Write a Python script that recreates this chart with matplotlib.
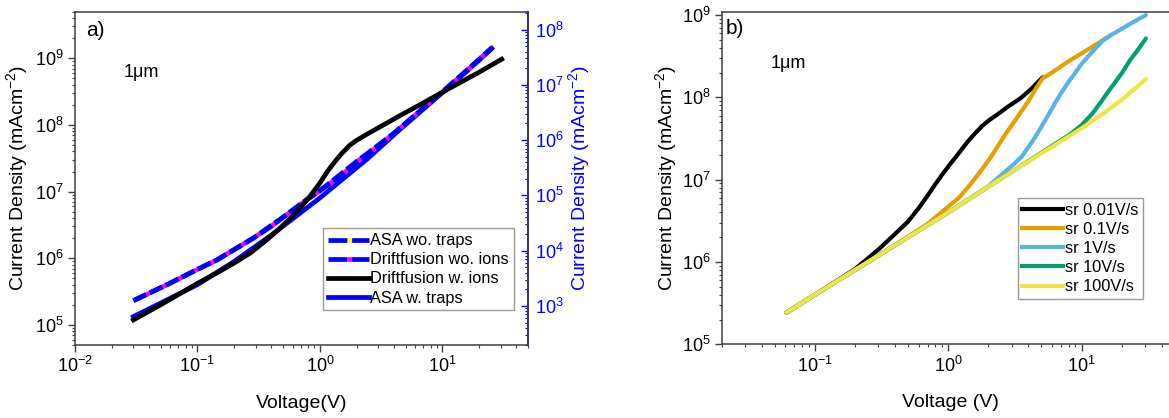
import matplotlib
matplotlib.use("Agg")
import matplotlib.pyplot as plt
from matplotlib.lines import Line2D
from matplotlib.ticker import LogLocator, NullFormatter, LogFormatterMathtext

# ---------------- data (panel a) ----------------
# Driftfusion wo. ions (left axis units)
v_df_wo = [0.03, 0.058, 0.1, 0.144, 0.2, 0.286, 0.4, 0.535, 0.78, 1.0, 1.5, 2.0, 3.0, 4.0, 6.0, 10.2, 15, 20, 25.3]
j_df_wo = [2.31e5, 4.1e5, 6.8e5, 9.4e5, 1.35e6, 2.0e6, 3.0e6, 4.5e6, 7.5e6, 1.03e7, 1.75e7, 2.8e7,
           4.8e7, 7.4e7, 1.4e8, 3.2e8, 5.9e8, 9.6e8, 1.41e9]
# Driftfusion w. ions (left axis units)
v_df_w = [0.03, 0.05, 0.1, 0.15, 0.2, 0.27, 0.35, 0.45, 0.55, 0.65, 0.75, 0.85, 1.0, 1.15, 1.3, 1.5,
          1.76, 2.0, 2.4, 3.3, 4.5, 6.2, 10.2, 20, 30.5]
j_df_w = [1.19e5, 2.0e5, 4.2e5, 6.3e5, 8.5e5, 1.2e6, 1.75e6, 2.6e6, 3.7e6, 5.1e6, 6.8e6, 9.0e6, 1.35e7,
          2.0e7, 2.7e7, 3.7e7, 5.0e7, 5.9e7, 7.2e7, 1.0e8, 1.38e8, 1.9e8, 3.16e8, 6.2e8, 9.7e8]
# ASA wo. traps (right axis units)
v_asa_wo = [0.03, 0.058, 0.1, 0.144, 0.286, 0.535, 0.78, 1.0, 2.0, 4.0, 10.2, 20, 25.3]
j_asa_wo = [1.25e3, 2.5e3, 4.6e3, 6.8e3, 1.69e4, 4.5e4, 8.4e4, 1.22e5, 4.1e5, 1.32e6, 7.8e6, 2.9e7, 4.7e7]
# ASA w. traps (right axis units)
v_asa_w = [0.03, 0.1, 0.2, 0.4, 0.687, 1.0, 2.41, 4.5, 10.2, 20, 25.3]
j_asa_w = [640, 2.42e3, 6.4e3, 1.9e4, 4.74e4, 9.0e4, 4.46e5, 1.55e6, 7.5e6, 2.8e7, 4.55e7]

# ---------------- data (panel b) ----------------
sr_labels = ["sr 0.01V/s", "sr 0.1V/s", "sr 1V/s", "sr 10V/s", "sr 100V/s"]
sr_colors = ["#000000", "#E69F00", "#56B4E9", "#009E73", "#F0E442"]
v_sr001 = [0.061, 0.1, 0.2, 0.3, 0.4, 0.5, 0.6, 0.7, 0.8, 0.9, 1.0, 1.2, 1.4, 1.6, 1.8, 2.0, 2.4, 2.8,
           3.5, 4.2, 5.1]
j_sr001 = [2.43e5, 4.0e5, 8.2e5, 1.42e6, 2.2e6, 3.1e6, 4.5e6, 6.4e6, 8.8e6, 1.15e7, 1.44e7, 2.1e7,
           2.9e7, 3.7e7, 4.5e7, 5.2e7, 6.4e7, 7.7e7, 9.8e7, 1.27e8, 1.75e8]
v_sr01 = [0.061, 0.1, 0.3, 0.7, 1.0, 1.2, 1.4, 1.6, 1.8, 2.0, 2.3, 2.6, 3.0, 3.5, 4.0, 4.5, 5.1, 6.0,
          8, 12, 16.6]
j_sr01 = [2.43e5, 4.0e5, 1.2e6, 2.9e6, 4.7e6, 6.0e6, 8.0e6, 1.05e7, 1.35e7, 1.7e7, 2.4e7, 3.3e7,
          4.6e7, 6.6e7, 9.0e7, 1.25e8, 1.7e8, 2.0e8, 2.75e8, 4.1e8, 5.7e8]
v_sr1 = [0.061, 0.1, 0.3, 1, 2, 3.18, 3.6, 4.0, 4.5, 5.0, 5.6, 6.4, 7.2, 8.0, 9.0, 10, 11.5, 13,
         14.5, 16.6, 20, 25, 30.4]
j_sr1 = [2.43e5, 4.0e5, 1.2e6, 4.0e6, 8.3e6, 1.6e7, 1.95e7, 2.5e7, 3.3e7, 4.4e7, 6.0e7, 8.8e7,
         1.2e8, 1.55e8, 2.0e8, 2.55e8, 3.3e8, 4.1e8, 4.9e8, 5.7e8, 6.8e8, 8.4e8, 1.0e9]
v_sr10 = [0.061, 0.1, 0.3, 1, 3, 8.3, 10, 12, 14, 16, 18, 20, 23, 26.5, 30.4]
j_sr10 = [2.43e5, 4.0e5, 1.2e6, 4.0e6, 1.25e7, 3.6e7, 4.6e7, 6.3e7, 8.8e7, 1.2e8, 1.55e8, 1.95e8,
          2.8e8, 3.8e8, 5.2e8]
v_sr100 = [0.061, 0.1, 0.3, 1, 3, 10, 15, 20, 25, 30.4]
j_sr100 = [2.43e5, 4.0e5, 1.2e6, 4.0e6, 1.25e7, 4.2e7, 6.6e7, 9.3e7, 1.27e8, 1.67e8]

# ---------------- style ----------------
plt.rcParams.update({
    "font.family": ["Liberation Sans", "DejaVu Sans"],
    "mathtext.fontset": "custom",
    "mathtext.rm": "Liberation Sans",
    "mathtext.it": "Liberation Sans:italic",
    "mathtext.bf": "Liberation Sans:bold",
    "axes.linewidth": 1.1,
})
SPINE = "#404040"
W, H = 1169, 418
fig = plt.figure(figsize=(W / 100, H / 100), dpi=100)

ax = fig.add_axes([75 / W, 73 / H, 453 / W, 333.3 / H])
ax2 = ax.twinx()
bx = fig.add_axes([721.7 / W, 73.7 / H, 453 / W, 332.6 / H])

LW_A = 3.4
LW_B = 3.0

# panel a lines
ax2.plot(v_asa_wo, j_asa_wo, color="blue", lw=LW_A, ls=(0, (3, 0.8)), gapcolor="yellow")
ax2.plot(v_asa_w, j_asa_w, color="blue", lw=LW_A)
ax.plot(v_df_wo, j_df_wo, color="blue", lw=LW_A, ls=(0, (3, 0.8)), gapcolor="magenta")
ax.plot(v_df_w, j_df_w, color="black", lw=LW_A)

ax.set_zorder(ax2.get_zorder() + 1)
ax.patch.set_visible(False)

for a in (ax, ax2):
    a.set_xscale("log")
    a.set_yscale("log")
ax.set_xlim(0.01, 50)
ax.set_ylim(5e4, 5e9)
ax2.set_ylim(196, 2.1e8)

# panel b lines
for v, j, c in zip([v_sr001, v_sr01, v_sr1, v_sr10, v_sr100],
                   [j_sr001, j_sr01, j_sr1, j_sr10, j_sr100], sr_colors):
    bx.plot(v, j, color=c, lw=LW_B, solid_capstyle="round", solid_joinstyle="round")
bx.set_xscale("log")
bx.set_yscale("log")
bx.set_xlim(0.02, 50)
bx.set_ylim(1e5, 1.1e9)


def style_axis(a):
    for s in a.spines.values():
        s.set_color(SPINE)
    a.tick_params(axis="both", which="major", direction="out", length=5, width=1,
                  color=SPINE, labelsize=13, pad=3)
    a.tick_params(axis="both", which="minor", direction="out", length=2.5, width=0.8, color=SPINE)
    a.xaxis.set_major_locator(LogLocator(base=10, numticks=12))
    a.xaxis.set_minor_locator(LogLocator(base=10, subs=range(2, 10), numticks=12))
    a.xaxis.set_minor_formatter(NullFormatter())
    a.yaxis.set_major_locator(LogLocator(base=10, numticks=12))
    a.yaxis.set_minor_locator(LogLocator(base=10, subs=range(2, 10), numticks=12))
    a.yaxis.set_minor_formatter(NullFormatter())
    a.xaxis.set_major_formatter(LogFormatterMathtext())
    a.yaxis.set_major_formatter(LogFormatterMathtext())


style_axis(ax)
style_axis(bx)
ax.tick_params(right=False, which="both")

# right (blue) axis
ax2.spines["right"].set_color("blue")
ax2.spines["right"].set_linewidth(1.3)
for k in ("left", "top", "bottom"):
    ax2.spines[k].set_visible(False)
ax2.xaxis.set_visible(False)
ax2.yaxis.set_major_locator(LogLocator(base=10, numticks=12))
ax2.yaxis.set_minor_locator(LogLocator(base=10, subs=range(2, 10), numticks=12))
ax2.yaxis.set_minor_formatter(NullFormatter())
ax2.yaxis.set_major_formatter(LogFormatterMathtext())
ax2.tick_params(axis="y", which="major", direction="in", length=5, width=1, color="blue",
                labelcolor="blue", labelsize=13, pad=5)
ax2.tick_params(axis="y", which="minor", direction="in", length=2.5, width=0.8, color="blue")

# labels
ylab = "Current Density (mAcm$^{-2}$)"
ax.set_xlabel("Voltage(V)", fontsize=14)
ax.set_ylabel(ylab, fontsize=14)
ax2.set_ylabel(ylab, fontsize=14, color="blue")
bx.set_xlabel("Voltage (V)", fontsize=14)
bx.set_ylabel(ylab, fontsize=14)
ax.xaxis.set_label_coords(0.5, -0.15)
bx.xaxis.set_label_coords((950 - 721.7) / 453, -0.15)
ax.yaxis.set_label_coords(-0.1, 0.5)
bx.yaxis.set_label_coords(-0.095, 0.5)
ax2.yaxis.set_label_coords(1.085, 0.5)

# annotations
ax.text(0.024, 0.945, "a)", transform=ax.transAxes, fontsize=15, ha="left", va="center")
ax.text(0.147, 0.819, "1\u03bcm", transform=ax.transAxes, fontsize=13, ha="center", va="center")
bx.text(0.029, 0.95, "b)", transform=bx.transAxes, fontsize=15, ha="center", va="center")
bx.text(0.146, 0.844, "1\u03bcm", transform=bx.transAxes, fontsize=13, ha="center", va="center")

# legends
h_a = [
    Line2D([], [], color="blue", lw=LW_A, ls=(0, (4, 1)), gapcolor="yellow"),
    Line2D([], [], color="blue", lw=LW_A, ls=(0, (4, 1)), gapcolor="magenta"),
    Line2D([], [], color="black", lw=LW_A),
    Line2D([], [], color="blue", lw=LW_A),
]
lab_a = ["ASA wo. traps", "Driftfusion wo. ions", "Driftfusion w. ions", "ASA w. traps"]
leg = ax.legend(h_a, lab_a, loc="upper left", bbox_to_anchor=(0.547, 0.35), borderaxespad=0,
                fontsize=11.8, frameon=True, fancybox=False, framealpha=1, edgecolor="#999999",
                handlelength=2.5, handletextpad=0.1, labelspacing=0.25, borderpad=0.3)
leg.get_frame().set_linewidth(1.0)

h_b = [Line2D([], [], color=c, lw=LW_B) for c in sr_colors]
legb = bx.legend(h_b, sr_labels, loc="upper left", bbox_to_anchor=(0.653, 0.44), borderaxespad=0,
                 fontsize=11.8, frameon=True, fancybox=False, framealpha=1, edgecolor="#999999",
                 handlelength=2.5, handletextpad=0.1, labelspacing=0.25, borderpad=0.3)
legb.get_frame().set_linewidth(1.0)

fig.savefig("out.png", dpi=100)
